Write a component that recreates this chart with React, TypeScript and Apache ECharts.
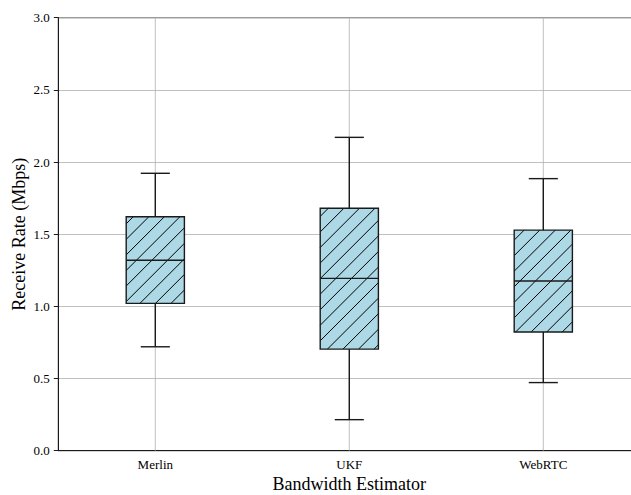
import React, { useEffect, useRef } from "react";
import * as echarts from "echarts";

const categories = ["Merlin", "UKF", "WebRTC"];
const whiskerLow = [0.72, 0.215, 0.472];
const q1 = [1.021, 0.704, 0.822];
const median = [1.319, 1.194, 1.176];
const q3 = [1.621, 1.68, 1.528];
const whiskerHigh = [1.922, 2.171, 1.885];
const yTicks = [0, 0.5, 1.0, 1.5, 2.0, 2.5, 3.0];

const FONT = "'Liberation Serif', 'Times New Roman', serif";
const HATCH_STEP = 15.55;
const HATCH_PHASE = 7.9;

export default function App() {
  const ref = useRef<HTMLDivElement>(null);
  useEffect(() => {
    if (!ref.current) return;
    const chart = echarts.init(ref.current, null, { renderer: "svg" });
    const data = categories.map((_, i) => [i, whiskerLow[i], q1[i], median[i], q3[i], whiskerHigh[i]]);
    const renderItem = (params: any, api: any) => {
      const idx = api.value(0);
      const cx = api.coord([idx, api.value(3)])[0];
      const yLow = api.coord([idx, api.value(1)])[1];
      const yQ1 = api.coord([idx, api.value(2)])[1];
      const yMed = api.coord([idx, api.value(3)])[1];
      const yQ3 = api.coord([idx, api.value(4)])[1];
      const yHigh = api.coord([idx, api.value(5)])[1];
      const band = api.size([1, 0])[0];
      const bw = band * 0.3;
      const half = bw / 2;
      const capHalf = bw / 4;
      const cs = params.coordSys;
      const stroke = "#1a1a1a";
      const children: any[] = [];
      children.push({
        type: "line",
        shape: { x1: cx, y1: cs.y, x2: cx, y2: cs.y + cs.height },
        style: { stroke: "#b0b0b0", lineWidth: 0.8 },
      });
      const x0 = cx - half, x1 = cx + half, y0 = yQ3, y1 = yQ1;
      children.push({
        type: "rect",
        shape: { x: x0, y: y0, width: bw, height: y1 - y0 },
        style: { fill: "#add8e6" },
      });
      const kmin = x0 + y0, kmax = x1 + y1;
      let k = Math.ceil((kmin - HATCH_PHASE) / HATCH_STEP) * HATCH_STEP + HATCH_PHASE;
      for (; k < kmax; k += HATCH_STEP) {
        const xs = Math.max(x0, k - y1);
        const xe = Math.min(x1, k - y0);
        if (xe > xs + 0.2) {
          children.push({
            type: "line",
            shape: { x1: xs, y1: k - xs, x2: xe, y2: k - xe },
            style: { stroke: "#000", lineWidth: 1 },
          });
        }
      }
      children.push({
        type: "rect",
        shape: { x: x0, y: y0, width: bw, height: y1 - y0 },
        style: { fill: "none", stroke, lineWidth: 1.4 },
      });
      const line = (xa: number, ya: number, xb: number, yb: number) => ({
        type: "line",
        shape: { x1: xa, y1: ya, x2: xb, y2: yb },
        style: { stroke, lineWidth: 1.4 },
      });
      children.push(line(x0, yMed, x1, yMed));
      children.push(line(cx, yQ3, cx, yHigh));
      children.push(line(cx, yQ1, cx, yLow));
      children.push(line(cx - capHalf, yHigh, cx + capHalf, yHigh));
      children.push(line(cx - capHalf, yLow, cx + capHalf, yLow));
      return { type: "group", children };
    };
    chart.setOption({
      animation: false,
      backgroundColor: "#ffffff",
      textStyle: { fontFamily: FONT },
      grid: {
        left: 58.3,
        top: 17.7,
        width: 582,
        height: 433,
        containLabel: false,
        outerBoundsMode: "none",
        show: true,
        borderColor: "#1a1a1a",
        borderWidth: 1,
        backgroundColor: "transparent",
      },
      xAxis: {
        type: "category",
        data: categories,
        boundaryGap: true,
        name: "Bandwidth Estimator",
        nameLocation: "middle",
        nameMoveOverlap: false,
        nameGap: 24,
        nameTextStyle: { fontFamily: FONT, fontSize: 18, color: "#000" },
        axisLine: { lineStyle: { color: "#1a1a1a", width: 1 } },
        axisTick: { alignWithLabel: true, length: 4.5, lineStyle: { color: "#1a1a1a" } },
        axisLabel: { fontFamily: FONT, fontSize: 13, color: "#000", margin: 7 },
        splitLine: { show: false },
      },
      yAxis: {
        type: "value",
        min: 0,
        max: 3,
        interval: 0.5,
        name: "Receive Rate (Mbps)",
        nameLocation: "middle",
        nameMoveOverlap: false,
        nameGap: 30,
        nameTextStyle: { fontFamily: FONT, fontSize: 18, color: "#000" },
        axisLine: { show: true, lineStyle: { color: "#1a1a1a", width: 1 } },
        axisTick: { show: true, length: 4.5, lineStyle: { color: "#1a1a1a" } },
        axisLabel: {
          fontFamily: FONT,
          fontSize: 13,
          color: "#000",
          margin: 8.5,
          formatter: (v: number) => (yTicks.includes(v) ? v.toFixed(1) : ""),
        },
        splitLine: { show: true, lineStyle: { color: "#b0b0b0", width: 0.8 } },
      },
      series: [
        {
          type: "custom",
          renderItem,
          encode: { x: 0, y: [1, 2, 3, 4, 5] },
          data,
          clip: false,
        },
      ],
    });
    return () => chart.dispose();
  }, []);
  return (
    <div
      ref={ref}
      style={{ position: "absolute", left: 0, top: 0, width: 631, height: 495, background: "#fff" }}
    />
  );
}
